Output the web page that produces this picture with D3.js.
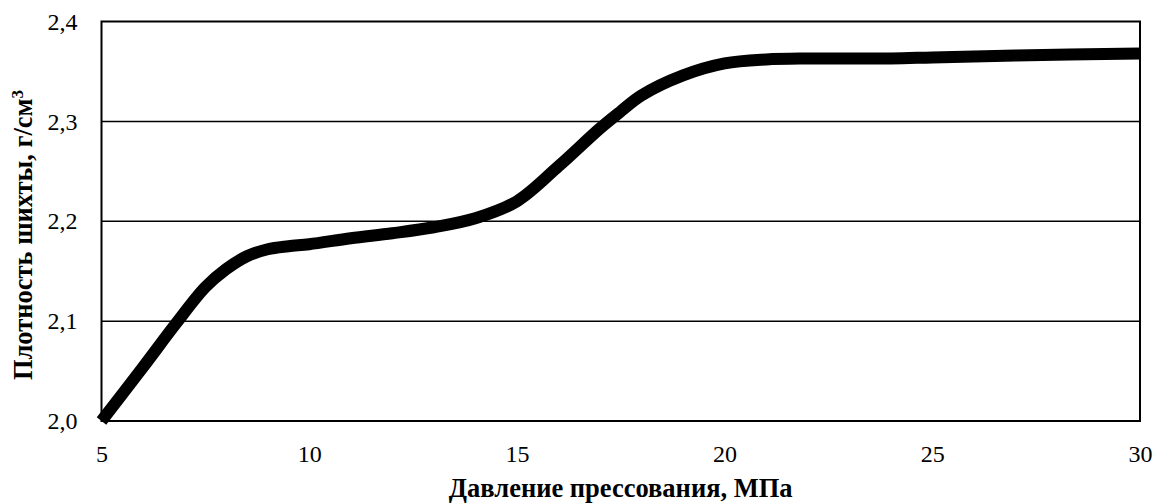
<!DOCTYPE html>
<html><head><meta charset="utf-8">
<script src="https://cdn.jsdelivr.net/npm/d3@7"></script>
<style>body{margin:0;background:#fff}svg{display:block}text{font-family:"Liberation Serif","Times New Roman",serif;fill:#000}</style>
</head><body>
<svg id="c" width="1156" height="504"></svg>
<script>
const pressure = [5, 6, 6.8, 7.5, 8, 8.5, 9, 9.5, 10, 11, 12, 13, 14, 15, 16, 17, 17.5, 18, 19, 20, 21, 22, 24, 25, 27, 30];
const density  = [2.000, 2.054, 2.098, 2.134, 2.152, 2.165, 2.172, 2.175, 2.177, 2.183, 2.188, 2.194, 2.203, 2.220, 2.255, 2.293, 2.310, 2.326, 2.346, 2.358, 2.362, 2.363, 2.363, 2.364, 2.366, 2.368];
const xTicks = [5, 10, 15, 20, 25, 30];
const yTicks = [2.0, 2.1, 2.2, 2.3, 2.4];
const xTitle = "Давление прессования, МПа";
const yTitle = "Плотность шихты, г/см";

const svg = d3.select("#c");
const L = 101.5, R = 1140, T = 21.5, B = 421;
const x = d3.scaleLinear().domain([5, 30]).range([L, R]);
const y = d3.scaleLinear().domain([2.0, 2.4]).range([B, T]);

// gridlines
svg.append("g").selectAll("line").data(yTicks.slice(1, -1)).join("line")
  .attr("x1", L).attr("x2", R).attr("y1", d => y(d)).attr("y2", d => y(d))
  .attr("stroke", "#000").attr("stroke-width", 1.5);

// plot border
svg.append("rect").attr("x", L).attr("y", T).attr("width", R - L).attr("height", B - T)
  .attr("fill", "none").attr("stroke", "#000").attr("stroke-width", 2);

// axes via d3
const fmt = d => d.toFixed(1).replace(".", ",");
const yAxis = svg.append("g").attr("transform", `translate(${L},0)`)
  .call(d3.axisLeft(y).tickValues(yTicks).tickFormat(fmt).tickSize(0).tickPadding(24));
yAxis.select(".domain").remove();
yAxis.selectAll("text").attr("font-size", 24).attr("font-family", "Liberation Serif");

const xAxis = svg.append("g").attr("transform", `translate(0,${B})`)
  .call(d3.axisBottom(x).tickValues(xTicks).tickFormat(d3.format("d")).tickSize(0).tickPadding(0));
xAxis.select(".domain").remove();
xAxis.selectAll("text").attr("dy", null).attr("y", 41).attr("font-size", 24).attr("font-family", "Liberation Serif");

// line
const line = d3.line().x((d, i) => x(pressure[i])).y(d => y(d)).curve(d3.curveCatmullRom.alpha(0.5));
svg.append("path").datum(density).attr("d", line)
  .attr("fill", "none").attr("stroke", "#000").attr("stroke-width", 12)
  .attr("stroke-linejoin", "round").attr("stroke-linecap", "butt");

// titles
svg.append("text").attr("x", (L + R) / 2).attr("y", 497).attr("text-anchor", "middle")
  .attr("font-size", 26.5).attr("font-weight", "bold").text(xTitle);
const yt = svg.append("text").attr("transform", `translate(32,235) rotate(-90)`)
  .attr("text-anchor", "middle").attr("font-size", 26.5).attr("font-weight", "bold");
yt.append("tspan").text(yTitle);
yt.append("tspan").attr("baseline-shift", "super").attr("font-size", 17).text("3");
</script>
</body></html>
